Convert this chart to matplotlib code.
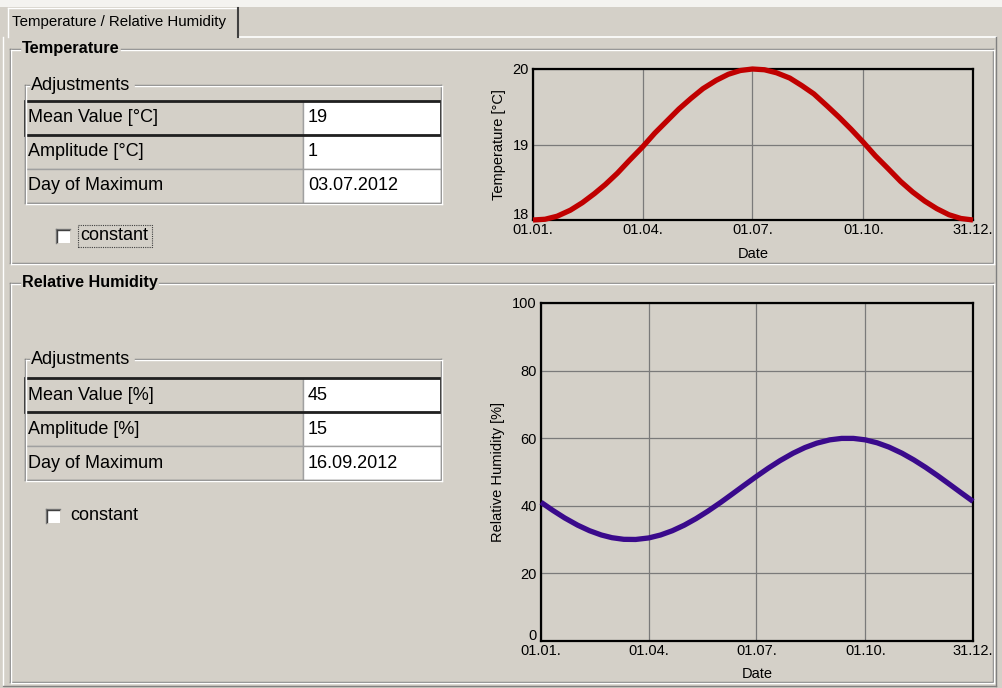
import matplotlib
matplotlib.use("Agg")
import matplotlib.pyplot as plt
from matplotlib.patches import Rectangle
from matplotlib.lines import Line2D
import matplotlib.transforms as mtransforms
import pandas as pd

# ---------------- data ----------------
dates = ["2012-01-01", "2012-01-11", "2012-01-21", "2012-02-01", "2012-02-11",
         "2012-02-21", "2012-03-01", "2012-03-11", "2012-03-21", "2012-04-01",
         "2012-04-11", "2012-04-21", "2012-05-01", "2012-05-11", "2012-05-21",
         "2012-06-01", "2012-06-11", "2012-06-21", "2012-07-01", "2012-07-11",
         "2012-07-21", "2012-08-01", "2012-08-11", "2012-08-21", "2012-09-01",
         "2012-09-11", "2012-09-21", "2012-10-01", "2012-10-11", "2012-10-21",
         "2012-11-01", "2012-11-11", "2012-11-21", "2012-12-01", "2012-12-11",
         "2012-12-21", "2012-12-31"]
temperature = [18.00, 18.01, 18.05, 18.13, 18.23, 18.35, 18.47, 18.62, 18.79,
               18.97, 19.15, 19.31, 19.47, 19.61, 19.74, 19.85, 19.93, 19.98,
               20.00, 19.99, 19.95, 19.88, 19.78, 19.67, 19.51, 19.36, 19.20,
               19.03, 18.85, 18.69, 18.51, 18.37, 18.25, 18.15, 18.07, 18.02,
               18.00]
humidity = [41.05, 38.64, 36.41, 34.26, 32.63, 31.36, 30.56, 30.08, 30.04,
            30.49, 31.36, 32.63, 34.26, 36.21, 38.41, 41.05, 43.59, 46.16,
            48.69, 51.12, 53.37, 55.56, 57.23, 58.53, 59.51, 59.94, 59.94,
            59.51, 58.64, 57.37, 55.56, 53.58, 51.36, 48.95, 46.41, 43.84,
            41.31]
tick_dates = ["2012-01-01", "2012-04-01", "2012-07-01", "2012-10-01", "2012-12-31"]
tick_labels = ["01.01.", "01.04.", "01.07.", "01.10.", "31.12."]
temp_ticks = [18, 19, 20]
rh_ticks = [0, 20, 40, 60, 80, 100]

temp_rows = ["Mean Value [°C]", "Amplitude [°C]", "Day of Maximum"]
temp_vals = ["19", "1", "03.07.2012"]
rh_rows = ["Mean Value [%]", "Amplitude [%]", "Day of Maximum"]
rh_vals = ["45", "15", "16.09.2012"]

# ---------------- setup ----------------
W, H = 1002, 688
BG = "#d4d0c8"
DARK = "#808080"
plt.rcParams['font.family'] = ['Liberation Sans', 'DejaVu Sans']
fig = plt.figure(figsize=(W / 100, H / 100), dpi=100)
fig.patch.set_facecolor(BG)


def fx(x):
    return x / W


def fy(y):
    return 1 - y / H


def line(x0, y0, x1, y1, color=DARK, lw=1.0, **kw):
    fig.add_artist(Line2D([fx(x0), fx(x1)], [fy(y0), fy(y1)],
                          transform=fig.transFigure, color=color, lw=lw, **kw))


def rect(x0, y0, x1, y1, fc="none", ec="none", lw=1.0, **kw):
    fig.add_artist(Rectangle((fx(x0), fy(y1)), fx(x1) - fx(x0), fy(y0) - fy(y1),
                             transform=fig.transFigure, facecolor=fc,
                             edgecolor=ec, lw=lw, **kw))


def text(x, y, s, size=11, **kw):
    fig.text(fx(x), fy(y), s, fontsize=size, va="center", ha="left", **kw)


def groupbox(x0, y0, x1, y1, title, tx, tw, bold=False, size=10.5):
    # etched border: dark line + white highlight
    for off, col in ((0, DARK), (1, "white")):
        line(x0 + off, y0 + off, tx - 2, y0 + off, col)
        line(tx + tw, y0 + off, x1 + off, y0 + off, col)
        line(x0 + off, y0 + off, x0 + off, y1 + off, col)
        line(x0 + off, y1 + off, x1 + off, y1 + off, col)
        line(x1 + off, y0 + off, x1 + off, y1 + off, col)
    text(tx, y0, title, size=size, fontweight="bold" if bold else "normal",
         color="black")


# top white strip and tab
rect(0, 0, W, 7, fc="#f4f3f0")
line(238, 37, 996, 37, "white", lw=1.2)
line(996, 37, 996, 686, DARK)
line(3, 37, 3, 686, "white")
line(3, 686, 996, 686, DARK)
line(8, 8, 8, 37, "white")
line(8, 8, 238, 8, "white")
line(238, 8, 238, 37, "#404040", lw=1.5)
text(12, 22, "Temperature / Relative Humidity", size=10.8)

# group boxes
groupbox(10, 49, 993, 263, "Temperature", 22, 99, bold=True, size=11.8)
groupbox(10, 283, 993, 682, "Relative Humidity", 22, 137, bold=True, size=11.6)


def adjustments(top, rows_top, rows, vals):
    x0, xm, x1 = 25, 303, 441
    rh = 34
    groupbox(x0, top, x1, rows_top + 3 * rh, "Adjustments", 31, 104, size=13)
    for i, (r, v) in enumerate(zip(rows, vals)):
        ya = rows_top + i * rh
        yb = ya + rh
        rect(x0, ya, xm, yb, fc=BG, ec="#a0a0a0")
        rect(xm, ya, x1, yb, fc="white", ec="#a0a0a0")
        text(x0 + 3, (ya + yb) / 2, r, size=13)
        text(xm + 5, (ya + yb) / 2, v, size=13)
    # highlighted first row
    rect(x0, rows_top, x1, rows_top + rh, ec="#202020", lw=2.0)


def checkbox(x, y, label, focus=False):
    rect(x, y, x + 14, y + 14, fc="white", ec="none")
    line(x, y, x + 14, y, DARK)
    line(x, y, x, y + 14, DARK)
    line(x + 1, y + 1, x + 13, y + 1, "#404040")
    line(x + 1, y + 1, x + 1, y + 13, "#404040")
    text(x + 24, y + 7, label, size=13)
    if focus:
        rect(x + 22, y - 4, x + 96, y + 18, ec="#404040", lw=0.8,
             linestyle=(0, (1, 1)))


adjustments(85, 101, temp_rows, temp_vals)
checkbox(56, 229, "constant", focus=True)
adjustments(359, 378, rh_rows, rh_vals)
checkbox(46, 509, "constant")

# ---------------- charts ----------------
x = pd.to_datetime(dates)
xt = pd.to_datetime(tick_dates)


def chart(box, y, color, ylabel, ylim, yticks):
    l, t, r, b = box
    ax = fig.add_axes([fx(l), fy(b), fx(r) - fx(l), fy(t) - fy(b)])
    ax.set_facecolor(BG)
    ax.plot(x, y, color=color, lw=3.8, solid_capstyle="butt",
            solid_joinstyle="round", zorder=3, clip_on=False)
    ax.set_xlim(xt[0], xt[-1])
    ax.set_ylim(*ylim)
    ax.set_xticks(xt)
    ax.set_xticklabels(tick_labels)
    ax.set_yticks(yticks)
    ax.grid(True, color="#7a7a7a", lw=0.9)
    ax.tick_params(axis="x", length=0, labelsize=10.5, pad=2)
    ax.tick_params(axis="y", length=0, labelsize=10.5, pad=3)
    fig.canvas.draw()
    lab0 = ax.get_yticklabels()[0]
    lab0.set_va("bottom")
    lab0.set_transform(lab0.get_transform() + mtransforms.ScaledTranslation(
        0, -2 / 100, fig.dpi_scale_trans))
    for s in ax.spines.values():
        s.set_color("black")
        s.set_linewidth(1.6)
    ax.set_xlabel("Date", fontsize=10.5, labelpad=7)
    ax.set_ylabel(ylabel, fontsize=10.5, labelpad=5)
    return ax


chart((533, 69, 973, 220), temperature, "#c00000", "Temperature [°C]",
      (18, 20), temp_ticks)
chart((541, 303, 973, 641), humidity, "#3a0a8c", "Relative Humidity [%]",
      (0, 100), rh_ticks)

fig.savefig("out.png", dpi=100, facecolor=BG)
